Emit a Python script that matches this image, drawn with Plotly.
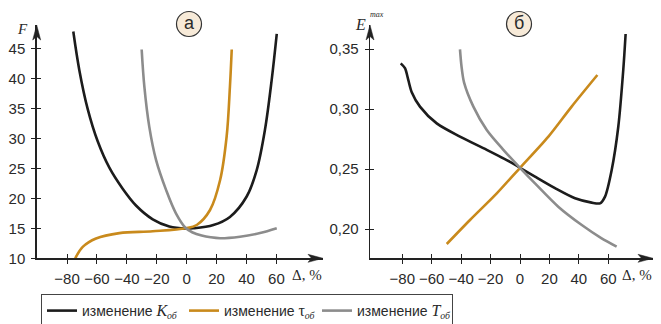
import plotly.graph_objects as go

W, H = 661, 324

# ---------------- data ----------------
# Panel а: F vs Δ, %
k_a_x = [-75.8, -71.8, -66.2, -59.5, -51.7, -42.8, -33.9, -22.7, -11.6, -0.5, 4.4, 17.8, 28.9, 40.1, 46.8, 52.3, 56.8, 60.2]
k_a_y = [47.8, 41.4, 34.9, 29.5, 25.1, 21.6, 18.8, 16.5, 15.3, 14.95, 15.0, 15.55, 16.9, 20.3, 24.7, 31.4, 39.7, 47.4]

tau_a_x = [-74.5, -69.5, -60.6, -45.0, -22.7, -0.5, 6.7, 15.6, 22.3, 26.7, 28.9, 30.1]
tau_a_y = [10.0, 11.9, 13.3, 14.2, 14.5, 15.0, 15.55, 18.05, 23.0, 30.3, 38.6, 44.8]

t_a_x = [-30.1, -28.3, -25.0, -20.5, -13.8, -7.2, -0.5, 4.0, 10.0, 16.0, 22.3, 35.6, 49.0, 60.2]
t_a_y = [44.8, 38.6, 31.9, 26.4, 21.4, 17.5, 15.0, 14.3, 13.8, 13.5, 13.35, 13.6, 14.2, 15.0]

# Panel б: E^max vs Δ, %
k_b_x = [-81.1, -78.2, -75.9, -73.6, -68.0, -56.6, -40.8, -22.6, -6.8, 0.0, 10.2, 23.8, 37.4, 48.7, 54.4, 57.8, 62.3, 66.8, 70.2, 71.8]
k_b_y = [0.338, 0.334, 0.324, 0.314, 0.302, 0.288, 0.277, 0.266, 0.256, 0.251, 0.2436, 0.234, 0.2256, 0.222, 0.2214, 0.227, 0.249, 0.285, 0.3325, 0.3625]

tau_b_x = [-49.8, -34.0, -15.8, 0.0, 19.3, 35.1, 52.6]
tau_b_y = [0.1875, 0.2075, 0.2297, 0.251, 0.277, 0.302, 0.3283]

t_b_x = [-40.8, -39.8, -38.0, -31.7, -22.6, -11.3, 0.0, 10.2, 26.0, 42.0, 55.5, 65.7]
t_b_y = [0.3497, 0.336, 0.322, 0.302, 0.2825, 0.266, 0.251, 0.238, 0.2186, 0.2033, 0.1922, 0.1853]

x_ticks = [-80, -60, -40, -20, 0, 20, 40, 60]
ya_ticks = [10, 15, 20, 25, 30, 35, 40, 45]
yb_ticks = [0.20, 0.25, 0.30, 0.35]
yb_labels = ["0,20", "0,25", "0,30", "0,35"]

SER = "font-family:Liberation Serif;font-size:16px"
SUB = "font-family:Liberation Serif"
names = [
    f'изменение <i><span style="{SER}">K</span></i><sub><i><span style="{SUB}">об</span></i></sub>',
    f'изменение <span style="{SER}">τ</span><sub><i><span style="{SUB}">об</span></i></sub>',
    f'изменение <i><span style="{SER}">T</span></i><sub><i><span style="{SUB}">об</span></i></sub>',
]
colors = ["#1c1c1c", "#c98a1c", "#8c8c8c"]

# ---------------- geometry helpers ----------------
def PX(px):
    return px / W

def PY(py):
    return 1 - py / H

AX = "#222222"
fig = go.Figure()

series_a = [(k_a_x, k_a_y), (tau_a_x, tau_a_y), (t_a_x, t_a_y)]
series_b = [(k_b_x, k_b_y), (tau_b_x, tau_b_y), (t_b_x, t_b_y)]
lw = [97, 88, 90]
for i, (xs, ys) in enumerate(series_a):
    fig.add_trace(go.Scatter(x=xs, y=ys, mode="lines", name=names[i],
                             line=dict(color=colors[i], width=2.6, shape="spline", smoothing=1.0),
                             xaxis="x", yaxis="y", legendwidth=lw[i], hoverinfo="skip"))
for i, (xs, ys) in enumerate(series_b):
    fig.add_trace(go.Scatter(x=xs, y=ys, mode="lines", name=names[i], showlegend=False,
                             line=dict(color=colors[i], width=2.6, shape="spline", smoothing=0.8),
                             xaxis="x2", yaxis="y2", hoverinfo="skip"))

tickfont = dict(family="Liberation Sans, Arial, sans-serif", size=15, color="#2a2a2a")

# panel а geometry (pixels)
a_left, a_right, a_top, a_bot = 36.7, 323.0, 25.0, 258.3
a_x0, a_sx = 186.7, 1.496
a_y10, a_sy = 258.3, 6.0
xa_range = [(a_left - a_x0) / a_sx, (a_right - a_x0) / a_sx]
ya_range = [10, 10 + (a_y10 - a_top) / a_sy]

# panel б geometry
b_left, b_right, b_top, b_bot = 370.0, 653.0, 25.0, 258.3
b_x0, b_sx = 520.0, 1.471
b_y20, b_sy = 229.0, 1200.0
xb_range = [(b_left - b_x0) / b_sx, (b_right - b_x0) / b_sx]
yb_range = [0.20 - (b_bot - b_y20) / b_sy, 0.20 + (b_y20 - b_top) / b_sy]

common = dict(showgrid=False, zeroline=False, showline=True, linecolor=AX, linewidth=1.4,
              ticks="outside", ticklen=4, tickwidth=1, tickcolor=AX, tickfont=tickfont, fixedrange=True)
inner = dict(showgrid=False, zeroline=False, showline=False, ticks="inside", ticklen=4, tickwidth=1,
             tickcolor=AX, showticklabels=False, fixedrange=True)

fig.update_layout(
    width=W, height=H,
    margin=dict(l=0, r=0, t=0, b=0, autoexpand=False),
    paper_bgcolor="white", plot_bgcolor="white",
    showlegend=True,
    xaxis=dict(domain=[PX(a_left), PX(a_right)], range=xa_range, anchor="y",
               tickmode="array", tickvals=x_ticks, ticklabelstandoff=2, **common),
    yaxis=dict(domain=[PY(a_bot), PY(a_top)], range=ya_range, anchor="x",
               tickmode="array", tickvals=ya_ticks, ticklabelstandoff=3, **common),
    xaxis2=dict(domain=[PX(b_left), PX(b_right)], range=xb_range, anchor="y2",
                tickmode="array", tickvals=x_ticks, ticklabelstandoff=2, **common),
    yaxis2=dict(domain=[PY(b_bot), PY(b_top)], range=yb_range, anchor="x2",
                tickmode="array", tickvals=yb_ticks, ticktext=yb_labels, ticklabelstandoff=3, **common),
    xaxis3=dict(overlaying="x", anchor="y", range=xa_range, tickmode="array", tickvals=x_ticks, **inner),
    yaxis3=dict(overlaying="y", anchor="x", range=ya_range, tickmode="array", tickvals=ya_ticks, **inner),
    xaxis4=dict(overlaying="x2", anchor="y2", range=xb_range, tickmode="array", tickvals=x_ticks, **inner),
    yaxis4=dict(overlaying="y2", anchor="x2", range=yb_range, tickmode="array", tickvals=yb_ticks, **inner),
    legend=dict(orientation="h", x=PX(41), y=PY(294), xanchor="left", yanchor="top",
                bordercolor="#444444", borderwidth=1, bgcolor="white",
                font=dict(family="Liberation Sans, Arial, sans-serif", size=14, color="#2a2a2a"),
                itemclick=False, itemdoubleclick=False),
)

# dummy traces so overlay axes get drawn
for xa, ya in [("x3", "y"), ("x", "y3"), ("x4", "y2"), ("x2", "y4")]:
    fig.add_trace(go.Scatter(x=[None], y=[None], xaxis=xa, yaxis=ya, showlegend=False, hoverinfo="skip"))

shapes = []

def arrow_right(tx, ty):
    p = [(tx, ty), (tx - 15, ty - 4), (tx - 11.5, ty), (tx - 15, ty + 4)]
    return "M " + " L ".join(f"{PX(x):.5f},{PY(y):.5f}" for x, y in p) + " Z"

def arrow_up(tx, ty):
    p = [(tx, ty), (tx - 4, ty + 15), (tx, ty + 11.5), (tx + 4, ty + 15)]
    return "M " + " L ".join(f"{PX(x):.5f},{PY(y):.5f}" for x, y in p) + " Z"

for path in [arrow_right(a_right, a_bot), arrow_up(a_left, a_top),
             arrow_right(b_right, b_bot), arrow_up(b_left, b_top)]:
    shapes.append(dict(type="path", xref="paper", yref="paper", path=path,
                       fillcolor=AX, line=dict(color=AX, width=0.5)))

# circled panel labels
for cx, cy in [(189.0, 24.0), (519.0, 24.0)]:
    r = 12.5
    shapes.append(dict(type="circle", xref="paper", yref="paper",
                       x0=PX(cx - r), x1=PX(cx + r), y0=PY(cy + r), y1=PY(cy - r),
                       fillcolor="#f7ead8", line=dict(color="#333333", width=1.2)))
fig.update_layout(shapes=shapes)

ann = []
serif = "Liberation Serif, Times New Roman, serif"
for cx, cy, t in [(189.0, 23.0, "а"), (519.0, 23.0, "б")]:
    ann.append(dict(x=PX(cx), y=PY(cy), xref="paper", yref="paper", text=t, showarrow=False,
                    font=dict(family="Liberation Sans, Arial, sans-serif", size=18, color="#2a2a2a"),
                    xanchor="center", yanchor="middle"))
for cx, t in [(307.0, "Δ, %"), (637.0, "Δ, %")]:
    ann.append(dict(x=PX(cx), y=PY(275), xref="paper", yref="paper", text=t, showarrow=False,
                    font=dict(family=serif, size=15, color="#2a2a2a"), xanchor="center", yanchor="middle"))
ann.append(dict(x=PX(22), y=PY(29), xref="paper", yref="paper", text="<i>F</i>", showarrow=False,
                font=dict(family=serif, size=15, color="#2a2a2a"), xanchor="center", yanchor="middle"))
ann.append(dict(x=PX(360), y=PY(24), xref="paper", yref="paper", text="<i>E</i>", showarrow=False,
                font=dict(family=serif, size=16, color="#2a2a2a"), xanchor="center", yanchor="middle"))
ann.append(dict(x=PX(377), y=PY(15), xref="paper", yref="paper", text="<i>max</i>", showarrow=False,
                font=dict(family=serif, size=8, color="#2a2a2a"), xanchor="center", yanchor="middle"))
fig.update_layout(annotations=ann)

fig.write_html("out.html", config={"displayModeBar": False, "staticPlot": True},
               post_script="document.body.style.margin='0';document.body.style.padding='0';document.body.style.overflow='hidden';")
